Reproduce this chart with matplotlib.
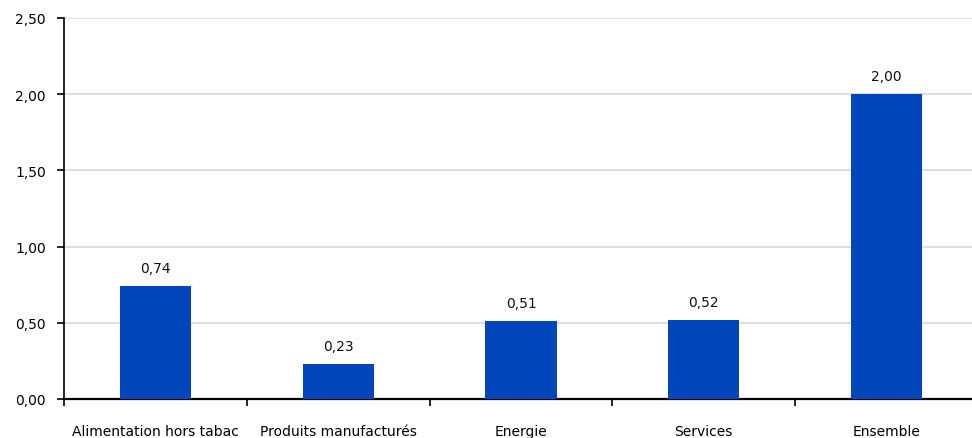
import matplotlib.pyplot as plt
import numpy as np

categories = ["Alimentation hors tabac", "Produits manufacturés", "Energie", "Services", "Ensemble"]
values = [0.74, 0.23, 0.51, 0.52, 2.00]
yticks = [0.0, 0.5, 1.0, 1.5, 2.0, 2.5]

def fr(v):
    return f"{v:.2f}".replace(".", ",")

plt.rcParams['font.family'] = ['DejaVu Sans']

fig = plt.figure(figsize=(9.72, 4.39), dpi=100)
# axes run slightly past the right edge of the figure
ax = fig.add_axes([64 / 972, 39 / 439, 914 / 972, 381 / 439])

x = np.arange(len(categories))
bars = ax.bar(x, values, width=0.39, color="#0046BB", zorder=3)

for b, v in zip(bars, values):
    ax.annotate(fr(v), (b.get_x() + b.get_width() / 2, v), xytext=(0, 8),
                textcoords="offset points", ha="center", va="bottom", fontsize=10, color="#111111")

ax.set_xlim(-0.5, len(categories) - 0.5)
ax.set_ylim(0, 2.5)
ax.set_yticks(yticks)
ax.set_yticklabels([fr(t) for t in yticks], fontsize=10)
ax.yaxis.grid(True, color="#d9d9d9", linewidth=1.2, zorder=0)

# category labels centred, tick marks on the boundaries
ax.set_xticks(np.arange(-0.5, len(categories), 1.0))
ax.set_xticklabels([])
ax.set_xticks(x, minor=True)
ax.set_xticklabels(categories, minor=True, fontsize=10)
ax.tick_params(axis="x", which="minor", length=0, pad=18)
ax.tick_params(axis="x", which="major", length=5, width=1.2, direction="out")
ax.tick_params(axis="y", length=5, width=1.2, direction="out", pad=8)

for s in ["top", "right"]:
    ax.spines[s].set_visible(False)
ax.spines["left"].set_linewidth(1.2)
ax.spines["bottom"].set_linewidth(1.6)

fig.savefig("out.png", dpi=100)
